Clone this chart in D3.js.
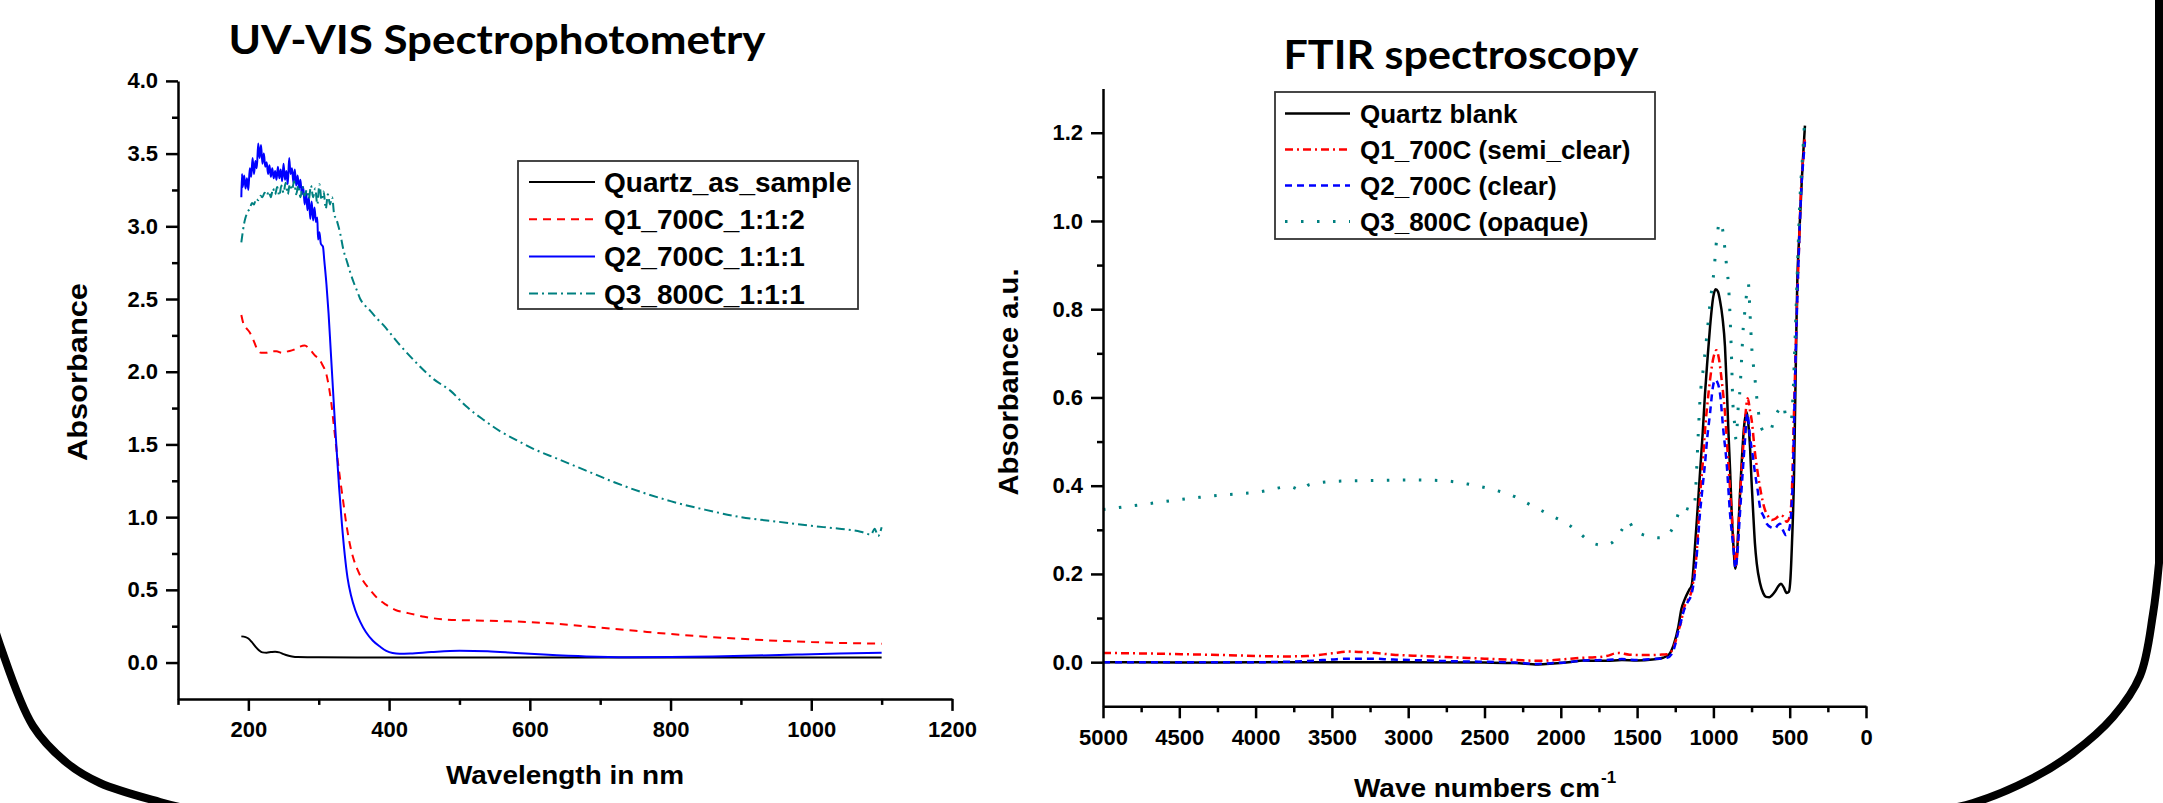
<!DOCTYPE html>
<html>
<head>
<meta charset="utf-8">
<script src="https://cdn.jsdelivr.net/npm/d3@7"></script>
<style>
    body { margin: 0; background: #fff; }
    svg { display: block; }
    text { font-family: "Liberation Sans", Arial, sans-serif; font-weight: bold; fill: #000; }
    .chart-title { font-family: Lato, "Open Sans", sans-serif; font-weight: 700; }
    .axis path, .axis line { stroke: #000; stroke-width: 2.5; }
</style>
</head>
<body>
<div id="figure"></div>
<script>
// ---- UV-VIS spectra (wavelength nm / absorbance) ----
const uvQuartzWl = [190, 196, 200, 205, 210, 215, 220, 226, 232, 238, 244, 250, 256, 262, 270, 300, 400, 500, 600, 700, 800, 900, 1000, 1100];
const uvQuartzAbs = [0.18, 0.175, 0.165, 0.14, 0.11, 0.085, 0.07, 0.068, 0.072, 0.075, 0.07, 0.058, 0.048, 0.042, 0.038, 0.036, 0.035, 0.035, 0.035, 0.035, 0.035, 0.035, 0.035, 0.034];

const uvQ1Wl = [190, 193, 197, 202, 207, 212, 218, 225, 232, 240, 248, 256, 264, 272, 280, 288, 295, 300, 305, 311,
    315, 318, 321, 324, 327, 331, 335, 339, 344, 349, 355, 362, 373, 384, 395, 410, 427, 450, 481, 520,
    560, 600, 650, 700, 750, 800, 850, 900, 950, 1000, 1050, 1100];
const uvQ1Abs = [2.39, 2.33, 2.30, 2.27, 2.22, 2.16, 2.13, 2.13, 2.14, 2.14, 2.13, 2.14, 2.15, 2.17, 2.18, 2.15, 2.11, 2.09, 2.05, 1.98,
    1.88, 1.78, 1.65, 1.52, 1.39, 1.24, 1.10, 0.96, 0.82, 0.72, 0.64, 0.57, 0.50, 0.44, 0.40, 0.36, 0.34, 0.315, 0.295, 0.29,
    0.285, 0.278, 0.262, 0.24, 0.218, 0.196, 0.178, 0.163, 0.150, 0.141, 0.134, 0.13];

const uvQ2Wl = [190, 191, 192, 194, 196, 198, 200, 202, 204, 206, 208, 210, 212, 214, 216, 218, 220, 222, 224, 226,
    228, 230, 232, 234, 236, 238, 240, 242, 244, 246, 248, 250, 252, 254, 256, 258, 260, 262, 264, 266,
    268, 270, 272, 274, 276, 278, 280, 282, 284, 286, 288, 290, 292, 294, 296, 298, 299, 301, 303, 306,
    308, 311, 314, 317, 320, 323, 326, 329, 333, 337, 341, 346, 352, 359, 367, 377, 387, 396, 405, 415,
    430, 460, 500, 540, 580, 620, 680, 740, 800, 860, 920, 980, 1040, 1100];
const uvQ2Abs = [3.20, 3.36, 3.27, 3.35, 3.26, 3.33, 3.25, 3.40, 3.34, 3.47, 3.36, 3.45, 3.40, 3.57, 3.47, 3.56, 3.43, 3.50, 3.41, 3.44,
    3.36, 3.42, 3.34, 3.40, 3.33, 3.38, 3.32, 3.41, 3.33, 3.39, 3.31, 3.43, 3.32, 3.38, 3.29, 3.47, 3.36, 3.40, 3.30, 3.39,
    3.28, 3.35, 3.26, 3.32, 3.22, 3.27, 3.15, 3.24, 3.11, 3.20, 3.05, 3.17, 3.04, 3.13, 3.03, 3.06, 2.91, 2.96, 2.88, 2.86,
    2.76, 2.60, 2.40, 2.15, 1.90, 1.65, 1.42, 1.20, 0.95, 0.74, 0.58, 0.46, 0.36, 0.28, 0.21, 0.15, 0.11, 0.08, 0.065, 0.06,
    0.062, 0.072, 0.081, 0.078, 0.066, 0.055, 0.042, 0.037, 0.038, 0.042, 0.048, 0.055, 0.062, 0.067];

const uvQ3Wl = [190, 192, 194, 196, 199, 202, 205, 208, 211, 214, 217, 220, 223, 226, 229, 232, 235, 238, 241, 244,
    247, 250, 253, 256, 259, 262, 265, 268, 271, 274, 277, 280, 283, 286, 289, 292, 295, 298, 301, 304,
    307, 310, 313, 316, 319, 322, 325, 328, 331, 335, 340, 345, 350, 355, 359, 365, 373, 382, 392, 404,
    416, 439, 463, 487, 510, 534, 558, 581, 605, 640, 680, 720, 760, 800, 850, 900, 950, 1000, 1040, 1070,
    1085, 1090, 1095, 1100];
const uvQ3Abs = [2.89, 2.96, 3.02, 3.06, 3.10, 3.12, 3.16, 3.15, 3.19, 3.18, 3.21, 3.20, 3.23, 3.21, 3.24, 3.20, 3.26, 3.22, 3.27, 3.21,
    3.28, 3.23, 3.30, 3.22, 3.29, 3.25, 3.31, 3.22, 3.28, 3.20, 3.27, 3.21, 3.25, 3.19, 3.28, 3.20, 3.26, 3.15, 3.29, 3.18,
    3.24, 3.12, 3.22, 3.15, 3.20, 3.08, 3.05, 3.00, 2.94, 2.84, 2.76, 2.68, 2.61, 2.55, 2.50, 2.46, 2.42, 2.37, 2.32, 2.25,
    2.18, 2.06, 1.95, 1.87, 1.76, 1.67, 1.59, 1.53, 1.47, 1.40, 1.32, 1.24, 1.17, 1.11, 1.05, 1.00, 0.97, 0.94, 0.92, 0.90,
    0.88, 0.92, 0.87, 0.93];

const uvLabels = ['Quartz_as_sample', 'Q1_700C_1:1:2', 'Q2_700C_1:1:1', 'Q3_800C_1:1:1'];
const uvXTicks = [200, 400, 600, 800, 1000, 1200];
const uvXMinor = [100, 300, 500, 700, 900, 1100];
const uvYTicks = [0, 0.5, 1.0, 1.5, 2.0, 2.5, 3.0, 3.5, 4.0];
const uvYMinor = [0.25, 0.75, 1.25, 1.75, 2.25, 2.75, 3.25, 3.75];

// ---- FTIR spectra (wave number cm-1 / absorbance a.u.) ----
const ftQuartzWn = [5000, 4500, 4000, 3500, 3000, 2500, 2300, 2150, 2050, 1950, 1850, 1700, 1600, 1500, 1400, 1330, 1290, 1260, 1230, 1210,
    1186, 1160, 1142, 1121, 1105, 1088, 1070, 1055, 1038, 1022, 1001, 985, 970, 957, 940, 924, 912, 902, 890, 880,
    868, 856, 846, 837, 826, 815, 800, 782, 771, 760, 750, 739, 728, 716, 695, 673, 655, 634, 615, 596,
    575, 557, 540, 520, 505, 495, 485, 472, 465, 455, 450, 440, 421, 410, 400];
const ftQuartzAbs = [0.0, -0.001, 0.0, 0.0, 0.0, -0.001, -0.002, -0.005, -0.003, 0.0, 0.004, 0.003, 0.005, 0.004, 0.006, 0.01, 0.018, 0.04, 0.08, 0.12,
    0.144, 0.163, 0.175, 0.261, 0.34, 0.428, 0.52, 0.609, 0.69, 0.76, 0.828, 0.845, 0.84, 0.82, 0.78, 0.715, 0.62, 0.526, 0.43, 0.337,
    0.26, 0.212, 0.24, 0.30, 0.38, 0.45, 0.53, 0.567, 0.54, 0.488, 0.41, 0.337, 0.27, 0.224, 0.18, 0.156, 0.148, 0.147, 0.152, 0.16,
    0.172, 0.178, 0.17, 0.157, 0.16, 0.19, 0.27, 0.42, 0.564, 0.78, 0.866, 0.95, 1.09, 1.16, 1.216];

const ftQ1Wn = [5000, 4600, 4200, 3800, 3660, 3500, 3390, 3250, 3100, 2900, 2700, 2500, 2300, 2150, 2000, 1850, 1776, 1700, 1625, 1550,
    1435, 1350, 1304, 1275, 1250, 1230, 1209, 1197, 1170, 1142, 1125, 1110, 1088, 1070, 1055, 1038, 1022, 1000, 980, 965,
    946, 924, 902, 880, 862, 852, 842, 826, 808, 793, 775, 760, 749, 727, 710, 695, 662, 640, 618, 590,
    564, 540, 520, 500, 487, 472, 454, 440, 428, 410, 400];
const ftQ1Abs = [0.021, 0.019, 0.016, 0.013, 0.014, 0.02, 0.024, 0.022, 0.017, 0.014, 0.011, 0.008, 0.005, 0.003, 0.006, 0.01, 0.011, 0.014, 0.021, 0.017,
    0.016, 0.017, 0.018, 0.025, 0.045, 0.07, 0.095, 0.118, 0.14, 0.163, 0.2, 0.246, 0.375, 0.45, 0.526, 0.59, 0.64, 0.69, 0.707, 0.69,
    0.64, 0.564, 0.45, 0.337, 0.25, 0.22, 0.26, 0.375, 0.47, 0.548, 0.598, 0.57, 0.548, 0.473, 0.43, 0.397, 0.345, 0.33, 0.322, 0.326,
    0.333, 0.33, 0.318, 0.33, 0.375, 0.564, 0.79, 0.93, 1.055, 1.15, 1.19];

const ftQ2Wn = [5000, 4500, 4000, 3700, 3500, 3400, 3250, 3100, 2900, 2700, 2500, 2300, 2150, 2050, 1950, 1850, 1700, 1600, 1500, 1400,
    1304, 1270, 1250, 1230, 1210, 1197, 1170, 1142, 1125, 1110, 1088, 1070, 1055, 1040, 1022, 1005, 989, 975, 957, 935,
    913, 891, 869, 855, 842, 826, 808, 793, 778, 760, 743, 727, 710, 695, 670, 651, 620, 596, 580, 564,
    545, 524, 510, 498, 480, 465, 443, 421, 410, 400];
const ftQ2Abs = [0.0, 0.0, 0.0, 0.002, 0.006, 0.008, 0.008, 0.006, 0.004, 0.002, 0.001, -0.001, -0.004, -0.002, 0.0, 0.004, 0.005, 0.007, 0.005, 0.007,
    0.01, 0.02, 0.04, 0.07, 0.095, 0.113, 0.135, 0.156, 0.19, 0.239, 0.337, 0.40, 0.45, 0.51, 0.564, 0.62, 0.64, 0.635, 0.61, 0.526,
    0.45, 0.337, 0.26, 0.213, 0.25, 0.337, 0.43, 0.503, 0.564, 0.51, 0.47, 0.428, 0.39, 0.352, 0.33, 0.314, 0.305, 0.303, 0.31, 0.314,
    0.30, 0.288, 0.295, 0.31, 0.413, 0.64, 0.90, 1.09, 1.14, 1.18];

const ftQ3Wn = [5000, 4750, 4482, 4250, 3974, 3774, 3700, 3650, 3468, 3200, 2962, 2760, 2600, 2454, 2300, 2202, 2050, 1946, 1870, 1795,
    1720, 1668, 1600, 1560, 1520, 1470, 1415, 1360, 1313, 1252, 1208, 1175, 1142, 1121, 1110, 1099, 1088, 1066, 1044, 1022,
    996, 978, 957, 935, 924, 913, 902, 891, 880, 874, 858, 852, 837, 826, 815, 804, 793, 782, 771, 760,
    749, 739, 727, 716, 705, 684, 660, 629, 610, 590, 565, 542, 520, 490, 476, 465, 454, 443, 432, 415, 400];
const ftQ3Abs = [0.346, 0.357, 0.369, 0.378, 0.386, 0.398, 0.39, 0.402, 0.41, 0.412, 0.413, 0.411, 0.403, 0.392, 0.375, 0.357, 0.33, 0.311, 0.29, 0.27,
    0.265, 0.27, 0.30, 0.32, 0.30, 0.29, 0.285, 0.282, 0.284, 0.314, 0.352, 0.348, 0.345, 0.367, 0.435, 0.519, 0.594, 0.666, 0.737, 0.813,
    0.888, 0.96, 0.998, 0.97, 0.934, 0.896, 0.859, 0.786, 0.677, 0.60, 0.53, 0.505, 0.579, 0.617, 0.688, 0.76, 0.798, 0.836, 0.858, 0.79,
    0.715, 0.677, 0.64, 0.60, 0.567, 0.53, 0.52, 0.522, 0.54, 0.56, 0.575, 0.583, 0.549, 0.549, 0.624, 0.73, 0.843, 0.957, 1.055, 1.15, 1.24];

const ftLabels = ['Quartz blank', 'Q1_700C (semi_clear)', 'Q2_700C (clear)', 'Q3_800C (opaque)'];
const ftXTicks = [5000, 4500, 4000, 3500, 3000, 2500, 2000, 1500, 1000, 500, 0];
const ftXMinor = [4750, 4250, 3750, 3250, 2750, 2250, 1750, 1250, 750, 250];
const ftYTicks = [0, 0.2, 0.4, 0.6, 0.8, 1.0, 1.2];
const ftYMinor = [0.1, 0.3, 0.5, 0.7, 0.9, 1.1];

const zip = (xs, ys) => xs.map((x, i) => [x, ys[i]]);

class SpectraFigure {
    constructor() {
        this.width = 2163;
        this.height = 803;
        this.svg = d3.select('#figure').append('svg')
            .attr('width', this.width)
            .attr('height', this.height);
    }

    draw() {
        this.drawFrame();
        this.drawUvVis();
        this.drawFtir();
    }

    // rounded slide border, only partly visible
    drawFrame() {
        const curve = d3.line().curve(d3.curveCatmullRom);
        this.svg.append('path')
            .attr('d', curve([[-14, 600], [0, 645], [33, 726], [67, 763], [100, 783], [160, 802], [210, 814]]))
            .attr('fill', 'none').attr('stroke', '#000').attr('stroke-width', 8);
        this.svg.append('path')
            .attr('d', 'M2159,-10 L2159,563 ' + curve([[2159, 563], [2153, 614], [2140, 676], [2113, 717], [2073, 753], [2033, 778], [1973, 803], [1930, 812]]).slice(1).replace(/^/, 'L'))
            .attr('fill', 'none').attr('stroke', '#000').attr('stroke-width', 8);
    }

    drawAxes(x, y, t) {
        const baseY = y.range()[0];
        const baseX = x.range()[0];

        // minor ticks
        this.svg.append('g').attr('class', 'axis')
            .attr('transform', `translate(0,${baseY})`)
            .call(d3.axisBottom(x).tickValues(t.xMinor).tickSize(6).tickFormat('').tickSizeOuter(0))
            .call(g => g.select('.domain').remove());
        this.svg.append('g').attr('class', 'axis')
            .attr('transform', `translate(${baseX},0)`)
            .call(d3.axisLeft(y).tickValues(t.yMinor).tickSize(6).tickFormat('').tickSizeOuter(0))
            .call(g => g.select('.domain').remove());

        // major ticks with labels
        this.svg.append('g').attr('class', 'axis')
            .attr('transform', `translate(0,${baseY})`)
            .call(d3.axisBottom(x).tickValues(t.xTicks).tickSize(12).tickPadding(t.xPad).tickSizeOuter(0).tickFormat(d3.format('d')))
            .call(g => g.selectAll('text').attr('font-size', 22).attr('font-family', null));
        this.svg.append('g').attr('class', 'axis')
            .attr('transform', `translate(${baseX},0)`)
            .call(d3.axisLeft(y).tickValues(t.yTicks).tickSize(12).tickPadding(t.yPad).tickSizeOuter(0).tickFormat(d3.format('.1f')))
            .call(g => g.selectAll('text').attr('font-size', 22).attr('font-family', null));
    }

    drawSeries(x, y, series) {
        const line = d3.line()
            .x(d => x(d[0]))
            .y(d => y(d[1]))
            .curve(d3.curveMonotoneX);
        series.forEach(s => {
            this.svg.append('path')
                .datum(s.data)
                .attr('fill', 'none')
                .attr('stroke', s.color)
                .attr('stroke-width', s.width)
                .attr('stroke-dasharray', s.dash)
                .attr('stroke-linecap', s.cap || 'butt')
                .attr('d', line);
        });
    }

    drawLegend(box, series, labels) {
        const g = this.svg.append('g');
        g.append('rect')
            .attr('x', box.x).attr('y', box.y)
            .attr('width', box.w).attr('height', box.h)
            .attr('fill', '#fff').attr('stroke', '#333').attr('stroke-width', 1.8);
        series.forEach((s, i) => {
            const cy = box.row0 + i * box.step;
            g.append('line')
                .attr('x1', box.lineX0).attr('x2', box.lineX1)
                .attr('y1', cy).attr('y2', cy)
                .attr('stroke', s.color)
                .attr('stroke-width', s.width)
                .attr('stroke-linecap', s.cap || 'butt')
                .attr('stroke-dasharray', s.dash);
            g.append('text')
                .attr('x', box.textX).attr('y', cy)
                .attr('dy', '0.36em')
                .attr('font-size', box.fontSize)
                .text(labels[i]);
        });
    }

    drawUvVis() {
        const x = d3.scaleLinear().domain([100, 1200]).range([178, 952]);
        const y = d3.scaleLinear().domain([-0.25, 4.0]).range([698.9, 80.9]);

        const series = [
            { data: zip(uvQuartzWl, uvQuartzAbs), color: '#000000', width: 2, dash: null },
            { data: zip(uvQ1Wl, uvQ1Abs), color: '#ff0000', width: 2, dash: '8,6' },
            { data: zip(uvQ2Wl, uvQ2Abs), color: '#0000ff', width: 2, dash: null },
            { data: zip(uvQ3Wl, uvQ3Abs), color: '#008080', width: 2, dash: '9,4,2,4' }
        ];

        this.drawSeries(x, y, series);
        this.drawAxes(x, y, { xTicks: uvXTicks, xMinor: uvXMinor, yTicks: uvYTicks, yMinor: uvYMinor, xPad: 10, yPad: 8 });

        this.drawLegend({ x: 518, y: 161, w: 340, h: 148, row0: 182, step: 37.2, lineX0: 529, lineX1: 595, textX: 604, fontSize: 28 },
            series, uvLabels);

        this.svg.append('text')
            .attr('class', 'chart-title')
            .attr('x', 497).attr('y', 54)
            .attr('text-anchor', 'middle')
            .attr('font-size', 40)
            .attr('textLength', 537)
            .attr('lengthAdjust', 'spacingAndGlyphs')
            .text('UV-VIS Spectrophotometry');

        this.svg.append('text')
            .attr('transform', 'translate(87,372) rotate(-90)')
            .attr('text-anchor', 'middle')
            .attr('font-size', 28)
            .attr('textLength', 178)
            .attr('lengthAdjust', 'spacingAndGlyphs')
            .text('Absorbance');

        this.svg.append('text')
            .attr('x', 565).attr('y', 784)
            .attr('text-anchor', 'middle')
            .attr('font-size', 26)
            .attr('textLength', 238)
            .attr('lengthAdjust', 'spacingAndGlyphs')
            .text('Wavelength in nm');
    }

    drawFtir() {
        const x = d3.scaleLinear().domain([5000, 0]).range([1103, 1866]);
        const y = d3.scaleLinear().domain([-0.1, 1.3]).range([706.3, 88.6]);

        const series = [
            { data: zip(ftQuartzWn, ftQuartzAbs), color: '#000000', width: 2.5, dash: null },
            { data: zip(ftQ1Wn, ftQ1Abs), color: '#ff0000', width: 2.5, dash: '8,4,2,4' },
            { data: zip(ftQ2Wn, ftQ2Abs), color: '#0000ff', width: 2.5, dash: '7,5' },
            { data: zip(ftQ3Wn, ftQ3Abs), color: '#008080', width: 3, dash: '2.5,13.5' }
        ];

        this.drawSeries(x, y, series);
        this.drawAxes(x, y, { xTicks: ftXTicks, xMinor: ftXMinor, yTicks: ftYTicks, yMinor: ftYMinor, xPad: 11, yPad: 8 });

        this.drawLegend({ x: 1275, y: 92, w: 380, h: 147, row0: 113.5, step: 36, lineX0: 1285, lineX1: 1350, textX: 1360, fontSize: 26 },
            series, ftLabels);

        this.svg.append('text')
            .attr('class', 'chart-title')
            .attr('x', 1461).attr('y', 69)
            .attr('text-anchor', 'middle')
            .attr('font-size', 40)
            .attr('textLength', 355)
            .attr('lengthAdjust', 'spacingAndGlyphs')
            .text('FTIR spectroscopy');

        this.svg.append('text')
            .attr('transform', 'translate(1018,382) rotate(-90)')
            .attr('text-anchor', 'middle')
            .attr('font-size', 27)
            .attr('textLength', 227)
            .attr('lengthAdjust', 'spacingAndGlyphs')
            .text('Absorbance a.u.');

        this.svg.append('text')
            .attr('x', 1477).attr('y', 797)
            .attr('text-anchor', 'middle')
            .attr('font-size', 26)
            .attr('textLength', 246)
            .attr('lengthAdjust', 'spacingAndGlyphs')
            .text('Wave numbers cm');
        this.svg.append('text')
            .attr('x', 1601).attr('y', 783)
            .attr('font-size', 17)
            .text('-1');
    }
}

const fig = new SpectraFigure();
fig.draw();
</script>
</body>
</html>
